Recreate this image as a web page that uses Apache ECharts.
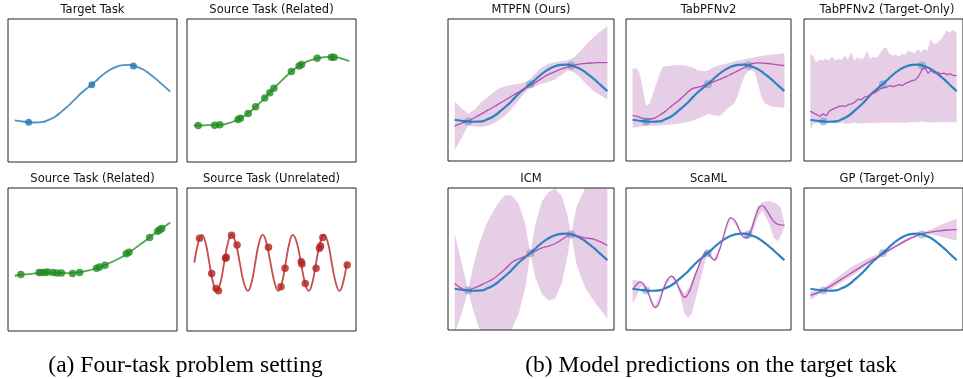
<!DOCTYPE html>
<html><head><meta charset="utf-8">
<script src="https://cdn.jsdelivr.net/npm/echarts@6/dist/echarts.min.js"></script>
<style>html,body{margin:0;padding:0;background:#fff}#c{width:963px;height:379px}</style>
</head><body><div id="c"></div>
<script>
// ---------------- DATA ----------------
const titles = ["Target Task","Source Task (Related)","Source Task (Related)","Source Task (Unrelated)",
  "MTPFN (Ours)","TabPFNv2","TabPFNv2 (Target-Only)","ICM","ScaML","GP (Target-Only)"];
const captions = ["(a) Four-task problem setting","(b) Model predictions on the target task"];

const gridX = [0,0.2,0.4,0.6,0.8,1.0,1.2,1.4,1.6,1.8,2.0,2.2,2.4,2.6,2.8,3.0,3.2,3.4,3.6,3.8,4.0,4.2,4.4,4.6];
const targetY = [1.24,1.21,1.19,1.18,1.19,1.26,1.36,1.52,1.69,1.89,2.09,2.25,2.42,2.60,2.74,2.84,2.89,2.90,2.84,2.76,2.62,2.46,2.28,2.10];
const targetPtsX = [0.41,2.28,3.51];
const targetPtsY = [1.19,2.31,2.87];

const src1Y = [1.09,1.09,1.10,1.10,1.11,1.15,1.22,1.32,1.45,1.62,1.81,2.02,2.23,2.43,2.62,2.79,2.92,3.02,3.08,3.12,3.14,3.13,3.08,3.01];
const src1PtsX = [0.13,0.62,0.77,1.31,1.38,1.61,1.83,2.10,2.25,2.37,2.89,3.12,3.19,3.65,4.07,4.15];
const src1PtsY = [1.09,1.10,1.11,1.27,1.31,1.45,1.65,1.91,2.07,2.20,2.70,2.87,2.91,3.10,3.13,3.13];

const src2Y = [1.65,1.68,1.70,1.72,1.73,1.74,1.74,1.73,1.73,1.74,1.77,1.81,1.87,1.94,2.03,2.12,2.23,2.36,2.50,2.65,2.80,2.96,3.10,3.24];
const src2PtsX = [0.18,0.72,0.79,0.89,0.97,1.13,1.25,1.38,1.71,1.92,2.42,2.51,2.67,3.30,3.38,3.99,4.23,4.29,4.35];
const src2PtsY = [1.69,1.75,1.75,1.75,1.76,1.75,1.73,1.73,1.72,1.75,1.87,1.91,1.96,2.31,2.35,2.79,2.98,3.02,3.06];

const unrelX = [0.02,0.13,0.24,0.35,0.46,0.57,0.68,0.79,0.90,1.01,1.12,1.24,1.36,1.48,1.60,1.71,1.82,1.93,2.04,2.15,2.27,2.39,2.50,2.61,2.72,2.83,2.93,3.05,3.17,3.29,3.40,3.51,3.62,3.74,3.85,3.97,4.08,4.20,4.31,4.42,4.53];
const unrelY = [2.04,2.63,2.87,2.63,2.04,1.45,1.20,1.45,2.04,2.63,2.87,2.63,2.04,1.45,1.20,1.45,2.04,2.63,2.87,2.63,2.04,1.45,1.20,1.45,2.04,2.63,2.87,2.63,2.04,1.45,1.20,1.45,2.04,2.63,2.87,2.63,2.04,1.45,1.20,1.45,2.04];
const unrelPtsX = [0.17,0.53,0.66,0.73,0.94,0.96,1.12,1.28,2.21,2.58,2.70,3.18,3.20,3.30,3.62,3.72,3.75,3.82,4.54];
const unrelPtsY = [2.77,1.72,1.27,1.20,2.17,2.20,2.86,2.57,2.50,1.32,1.87,2.07,2.00,1.42,1.87,2.47,2.54,2.79,1.97];

// MTPFN
const mtpfnMean  = [1.05,1.13,1.20,1.30,1.41,1.53,1.64,1.76,1.88,2.00,2.12,2.23,2.34,2.47,2.59,2.68,2.76,2.82,2.88,2.92,2.94,2.95,2.96,2.96];
const mtpfnUpper = [1.80,1.59,1.42,1.54,1.77,1.92,2.10,2.21,2.27,2.30,2.34,2.40,2.60,2.80,2.91,2.96,3.00,3.03,3.12,3.32,3.54,3.74,3.90,4.05];
const mtpfnLower = [0.32,0.67,1.07,1.04,1.02,1.06,1.14,1.27,1.44,1.67,1.92,2.14,2.24,2.32,2.37,2.44,2.57,2.72,2.67,2.49,2.27,2.10,1.97,1.84];

// TabPFNv2
const tabMean = [1.37,1.32,1.26,1.27,1.37,1.50,1.67,1.82,2.00,2.17,2.22,2.29,2.36,2.44,2.52,2.62,2.72,2.82,2.92,2.95,2.94,2.92,2.89,2.87];
const tabUpperX = [0,0.1,0.2,0.3,0.4,0.5,0.6,0.7,0.8,0.9,1.0,1.2,1.4,1.6,1.8,2.0,2.2,2.3,2.4,2.6,2.8,3.0,3.2,3.4,3.6,3.8,4.0,4.2,4.4,4.6];
const tabUpperY = [2.77,2.80,2.67,2.22,1.67,1.70,1.97,2.27,2.57,2.82,2.85,2.87,2.89,2.87,2.82,2.72,2.70,2.72,2.80,2.87,2.92,2.97,3.02,3.06,3.10,3.14,3.17,3.20,3.22,3.24];
const tabLowerX = [0,0.4,0.8,1.2,1.6,1.9,2.1,2.3,2.5,2.6,2.7,2.8,2.9,3.0,3.1,3.2,3.3,3.4,3.5,3.6,3.7,3.8,3.9,4.0,4.2,4.4,4.6];
const tabLowerY = [1.00,1.05,1.07,1.10,1.16,1.24,1.32,1.42,1.37,1.35,1.39,1.50,1.60,1.66,1.77,2.00,2.32,2.57,2.70,2.74,2.67,2.32,1.94,1.74,1.64,1.62,1.60];

// TabPFNv2 (Target-Only)
const toUpperX = [0,0.08,0.18,0.28,0.38,0.48,0.58,0.68,0.78,0.88,0.98,1.08,1.18,1.28,1.38,1.48,1.58,1.68,1.78,1.88,1.98,2.08,2.18,2.28,2.38,2.48,2.58,2.68,2.78,2.88,2.98,3.08,3.18,3.28,3.38,3.48,3.58,3.68,3.78,3.88,3.98,4.08,4.18,4.28,4.38,4.48,4.60];
const toUpperY = [3.22,3.17,2.97,3.04,3.02,3.07,3.02,3.14,3.02,3.07,3.04,3.17,3.04,3.27,3.02,3.12,3.07,3.10,3.32,3.07,3.14,3.10,3.22,3.37,3.42,3.24,3.17,3.20,3.14,3.22,3.20,3.32,3.27,3.24,3.37,3.27,3.37,3.32,3.67,3.52,3.54,3.62,3.77,3.92,3.87,3.94,3.87];
const toLowerX = [0,0.1,0.2,0.4,0.6,0.8,1.0,1.2,1.4,1.6,1.8,2.0,2.2,2.4,2.6,2.8,3.0,3.2,3.4,3.5,3.6,3.8,4.0,4.2,4.4,4.6];
const toLowerY = [0.97,1.12,1.14,1.13,1.15,1.13,1.14,1.12,1.15,1.13,1.14,1.15,1.14,1.16,1.15,1.16,1.15,1.17,1.16,1.20,1.17,1.16,1.17,1.16,1.17,1.16];
const toMeanX = [0,0.1,0.2,0.3,0.4,0.5,0.6,0.7,0.8,0.9,1.0,1.1,1.2,1.3,1.4,1.5,1.6,1.7,1.8,1.9,2.0,2.1,2.2,2.3,2.4,2.5,2.6,2.7,2.8,2.9,3.0,3.1,3.2,3.3,3.4,3.5,3.6,3.7,3.8,3.9,4.0,4.1,4.2,4.3,4.4,4.5,4.6];
const toMeanY = [1.50,1.44,1.40,1.34,1.42,1.36,1.50,1.56,1.60,1.64,1.66,1.64,1.70,1.72,1.77,1.86,1.84,1.92,1.94,2.02,2.04,2.10,2.17,2.20,2.22,2.27,2.24,2.27,2.30,2.27,2.34,2.37,2.42,2.44,2.54,2.72,2.82,2.64,2.72,2.64,2.67,2.62,2.64,2.60,2.62,2.57,2.57];

// ICM
const icmX = [0,0.13,0.28,0.41,0.53,0.73,0.93,1.13,1.33,1.53,1.73,1.93,2.13,2.28,2.43,2.63,2.83,3.03,3.23,3.38,3.51,3.68,3.93,4.23,4.60];
const icmMean  = [1.40,1.30,1.22,1.20,1.24,1.32,1.42,1.52,1.67,1.84,2.04,2.14,2.22,2.30,2.37,2.47,2.52,2.60,2.72,2.82,2.89,2.84,2.77,2.72,2.54];
const icmUpper = [2.90,2.35,1.72,1.20,1.79,2.57,3.12,3.52,3.85,4.06,4.04,3.79,3.17,2.30,3.17,3.87,4.15,4.25,4.02,3.52,2.89,3.74,4.27,4.62,4.74];
const icmLower = [-0.10,0.25,0.72,1.20,0.69,0.07,-0.28,-0.48,-0.51,-0.38,0.04,0.49,1.27,2.30,1.57,1.07,0.89,0.95,1.42,2.12,2.89,1.94,1.27,0.82,0.34];

// ScaML
const scaMeanX = [0,0.11,0.23,0.35,0.48,0.58,0.68,0.78,0.93,1.06,1.18,1.31,1.43,1.58,1.71,1.85,2.01,2.15,2.25,2.37,2.48,2.60,2.73,2.86,2.98,3.10,3.23,3.35,3.45,3.58,3.71,3.83,3.93,4.05,4.18,4.33,4.48,4.60];
const scaMeanY = [1.22,1.35,1.45,1.35,1.10,0.82,0.68,0.77,1.22,1.52,1.62,1.47,1.20,0.99,1.14,1.52,1.94,2.27,2.35,2.20,2.10,2.32,2.72,3.17,3.37,3.29,3.02,2.80,2.77,2.97,3.37,3.67,3.74,3.62,3.40,3.22,3.16,3.15];
const scaUpperX = [0,0.13,0.23,0.35,0.48,0.68,0.93,1.18,1.38,1.58,1.73,1.88,2.01,2.15,2.25,2.37,2.48,2.73,2.98,3.23,3.45,3.63,3.78,3.93,4.13,4.33,4.48,4.60];
const scaUpperY = [1.52,1.49,1.48,1.40,1.14,0.72,1.26,1.66,1.40,1.10,1.32,1.70,2.00,2.32,2.39,2.24,2.14,2.75,3.40,3.05,2.81,3.22,3.70,3.85,3.88,3.82,3.70,3.22];
const scaLowerX = [0,0.13,0.23,0.35,0.48,0.68,0.93,1.18,1.33,1.45,1.58,1.68,1.78,1.88,2.01,2.15,2.25,2.37,2.48,2.73,2.98,3.23,3.45,3.63,3.78,3.93,4.13,4.28,4.40,4.51,4.60];
const scaLowerY = [0.80,1.02,1.30,1.30,1.06,0.64,1.18,1.58,1.40,1.02,0.47,0.37,0.47,0.82,1.32,1.87,2.27,2.16,2.06,2.69,3.34,2.99,2.72,2.92,3.37,3.60,3.22,2.77,2.67,2.87,3.10];

// GP (Target-Only)
const gpMeanX = [0,0.41,0.93,1.43,1.83,2.28,2.73,3.13,3.51,3.83,4.23,4.60];
const gpMeanY = [1.04,1.20,1.50,1.80,2.04,2.29,2.54,2.75,2.89,2.95,3.00,3.02];
const gpBandX = [0,0.2,0.41,0.63,0.93,1.33,1.73,2.03,2.28,2.63,3.03,3.33,3.51,3.83,4.13,4.60];
const gpUpper = [1.16,1.20,1.25,1.42,1.64,1.92,2.12,2.25,2.32,2.54,2.76,2.89,2.92,3.04,3.17,3.35];
const gpLower = [0.90,1.04,1.15,1.22,1.40,1.64,1.92,2.12,2.25,2.45,2.66,2.80,2.86,2.87,2.80,2.69];

// ---------------- LAYOUT / STYLE ----------------
const grids = [
  {left:8,top:19,width:169,height:143},{left:187,top:19,width:169,height:143},
  {left:8,top:188,width:169,height:143},{left:187,top:188,width:169,height:143},
  {left:448,top:19,width:166,height:142},{left:626,top:19,width:165,height:142},{left:804,top:19,width:166,height:142},
  {left:448,top:188,width:166,height:142},{left:626,top:188,width:165,height:142},{left:804,top:188,width:166,height:142}
];
const BAND = 'rgba(140,30,140,0.22)';
const MEAN = '#b450b4';
const TBLUE = '#2f82bf';
const zip = (xs, ys) => xs.map((x, i) => [x, ys[i]]);

const series = [];
function line(g, xs, ys, color, width, smooth, z) {
  series.push({type:'line', xAxisIndex:g, yAxisIndex:g, data:zip(xs, ys), showSymbol:false, smooth:smooth,
    lineStyle:{color:color, width:width}, z:z, silent:true, animation:false});
}
function pts(g, xs, ys, color, size) {
  series.push({type:'scatter', xAxisIndex:g, yAxisIndex:g, data:zip(xs, ys), symbolSize:size,
    itemStyle:{color:color}, z:5, silent:true, animation:false});
}
function band(g, ux, uy, lx, ly) {
  const up = zip(ux, uy), lo = zip(lx, ly);
  series.push({type:'custom', xAxisIndex:g, yAxisIndex:g, z:1, silent:true, clip:true, animation:false,
    data:[up[0]],
    renderItem: function (params, api) {
      if (params.dataIndex !== 0) return null;
      const p = [];
      up.forEach(d => p.push(api.coord(d)));
      for (let i = lo.length - 1; i >= 0; i--) p.push(api.coord(lo[i]));
      const cs = params.coordSys;
      return {type:'polygon', shape:{points:p}, style:{fill:BAND},
        clipPath:{type:'rect', shape:{x:cs.x, y:cs.y, width:cs.width, height:cs.height}}};
    }});
}

// left block
line(0, gridX, targetY, '#4b92c6', 1.8, true, 2); pts(0, targetPtsX, targetPtsY, '#1f77b4', 7);
line(1, gridX, src1Y, '#4ea84e', 1.8, true, 2); pts(1, src1PtsX, src1PtsY, '#228b22', 7.5);
line(2, gridX, src2Y, '#4ea84e', 1.8, true, 2); pts(2, src2PtsX, src2PtsY, '#228b22', 7.5);
line(3, unrelX, unrelY, '#c84c4c', 1.8, true, 2); pts(3, unrelPtsX, unrelPtsY, '#b22222', 7.5);

// right block
const models = [
  {g:4, band:[gridX, mtpfnUpper, gridX, mtpfnLower], mean:[gridX, mtpfnMean], smooth:true},
  {g:5, band:[tabUpperX, tabUpperY, tabLowerX, tabLowerY], mean:[gridX, tabMean], smooth:true},
  {g:6, band:[toUpperX, toUpperY, toLowerX, toLowerY], mean:[toMeanX, toMeanY], smooth:false},
  {g:7, band:[icmX, icmUpper, icmX, icmLower], mean:[icmX, icmMean], smooth:true},
  {g:8, band:[scaUpperX, scaUpperY, scaLowerX, scaLowerY], mean:[scaMeanX, scaMeanY], smooth:true},
  {g:9, band:[gpBandX, gpUpper, gpBandX, gpLower], mean:[gpMeanX, gpMeanY], smooth:true}
];
models.forEach(m => {
  band(m.g, m.band[0], m.band[1], m.band[2], m.band[3]);
  line(m.g, gridX, targetY, TBLUE, 2.2, true, 2);
  line(m.g, m.mean[0], m.mean[1], MEAN, 1.3, m.smooth, 3);
  pts(m.g, targetPtsX, targetPtsY, 'rgba(31,119,180,0.45)', 8);
});

const graphic = [];
grids.forEach((g, i) => {
  graphic.push({type:'text', x:g.left + g.width / 2, y:g.top - 9,
    style:{text:titles[i], font:'11.5px "DejaVu Sans"', fill:'#111', textAlign:'center', textVerticalAlign:'middle'}});
});
graphic.push({type:'text', x:185.5, y:366, style:{text:captions[0], font:'23.5px "Liberation Serif"', fill:'#000', textAlign:'center', textVerticalAlign:'middle'}});
graphic.push({type:'text', x:711, y:366, style:{text:captions[1], font:'23.5px "Liberation Serif"', fill:'#000', textAlign:'center', textVerticalAlign:'middle'}});

const chart = echarts.init(document.getElementById('c'), null, {renderer:'canvas'});
chart.setOption({
  animation:false,
  backgroundColor:'#fff',
  grid: grids.map(g => Object.assign({show:true, borderColor:'#222', borderWidth:1, backgroundColor:'transparent'}, g)),
  xAxis: grids.map((g, i) => ({type:'value', gridIndex:i, min:-0.2, max:4.8, show:false})),
  yAxis: grids.map((g, i) => ({type:'value', gridIndex:i, min:0, max:4.27, show:false})),
  series: series,
  graphic: graphic
});
</script></body></html>
